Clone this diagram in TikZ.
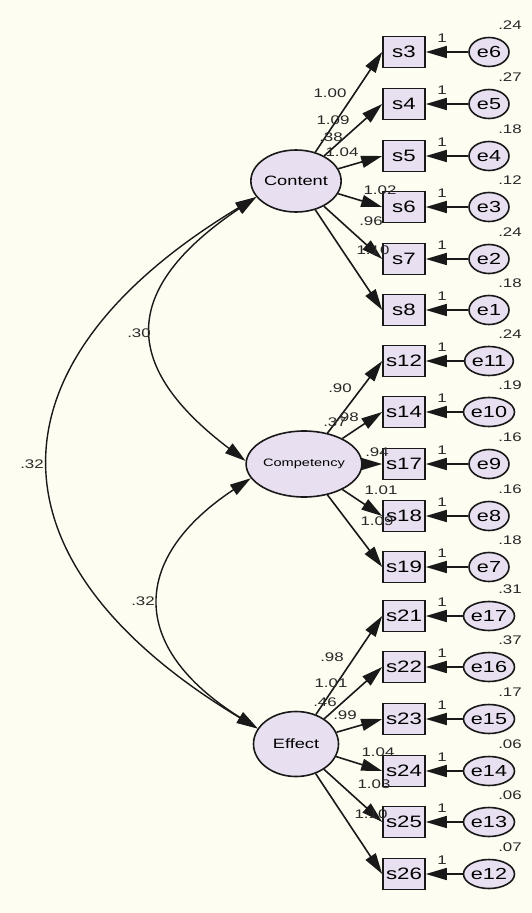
\documentclass[tikz,border=0pt]{standalone}
\usepackage{fontspec}
\setmainfont{Liberation Sans}[FakeStretch=1.35]
\usetikzlibrary{shapes.geometric,arrows.meta}
\definecolor{bg}{RGB}{253,253,241}
\definecolor{nodefill}{RGB}{232,224,240}
\definecolor{ink}{RGB}{25,25,25}
\definecolor{lab}{RGB}{40,40,40}
\tikzset{
  tip/.tip={Triangle[length=21pt,width=12pt]},
  obs/.style={draw=ink,line width=1.6pt,fill=nodefill,rectangle,minimum width=42pt,minimum height=31pt,inner sep=0pt,font=\fontsize{16.5}{16.5}\selectfont},
  err/.style={draw=ink,line width=1.6pt,fill=nodefill,ellipse,minimum width=40pt,minimum height=29pt,inner sep=0pt,font=\fontsize{16}{16}\selectfont},
  lat/.style={draw=ink,line width=1.6pt,fill=nodefill,ellipse,inner sep=0pt},
  load/.style={draw=ink,line width=1.6pt,-{tip}},
  cov/.style={draw=ink,line width=1.4pt,{tip}-{tip}},
  lbl/.style={text=lab,inner sep=0pt,font=\fontsize{12.5}{12.5}\selectfont}
}
\begin{document}
\begin{tikzpicture}[x=1pt,y=-1pt]
\fill[bg] (0,0) rectangle (532,913);
\useasboundingbox (0,0) rectangle (532,913);

% latent variables
\node[lat,minimum width=83pt,minimum height=62pt,font=\fontsize{13.5}{13.5}\selectfont] (Content) at (296,181) {Content};
\node[lat,minimum width=84pt,minimum height=66pt,font=\fontsize{10.8}{10.8}\selectfont] (Competency) at (304,464) {Competency};
\node[lat,minimum width=85pt,minimum height=65pt,font=\fontsize{13.5}{13.5}\selectfont] (Effect) at (296,744) {Effect};

% observed variables with errors
\foreach \s/\e/\y/\v in {3/6/52/.24,4/5/104/.27,5/4/156/.18,6/3/207/.12,7/2/259/.24,8/1/310/.18,
  12/11/361/.24,14/10/412/.19,17/9/464/.16,18/8/516/.16,19/7/567/.18,
  21/17/616/.31,22/16/667/.37,23/15/719/.17,24/14/771/.06,25/13/822/.06,26/12/874/.07}{
  \node[obs] (s\s) at (404,\y) {s\s};
  \node[err] (e\e) at (489,\y) {e\e};
  \draw[load] (e\e) -- (s\s);
  \node[lbl] (one\s) at (442,{\y-14}) {1};
  \node[lbl] (var\e) at (510,{\y-27}) {\v};
}

% loadings
\foreach \s in {3,4,5,6,7,8}{\draw[load] (Content) -- (s\s.west);}
\foreach \s in {12,14,17,18,19}{\draw[load] (Competency) -- (s\s.west);}
\foreach \s in {21,22,23,24,25,26}{\draw[load] (Effect) -- (s\s.west);}

% loading labels
\node[lbl] (l1) at (330,93) {1.00};
\node[lbl] (l2) at (333,120) {1.09};
\node[lbl] (v1) at (331,137) {.38};
\node[lbl] (l3) at (342,152) {1.04};
\node[lbl] (l4) at (380,190) {1.02};
\node[lbl] (l5) at (371,221) {.96};
\node[lbl] (l6) at (373,250) {1.10};

\node[lbl] (l7) at (340,388) {.90};
\node[lbl] (v2) at (335,422) {.37};
\node[lbl] (l8) at (347,417) {.98};
\node[lbl] (l9) at (377,452) {.94};
\node[lbl] (l10) at (381,490) {1.01};
\node[lbl] (l11) at (377,521) {1.09};

\node[lbl] (l12) at (332,657) {.98};
\node[lbl] (l13) at (331,683) {1.01};
\node[lbl] (v3) at (325,702) {.46};
\node[lbl] (l14) at (345,715) {.99};
\node[lbl] (l15) at (378,752) {1.04};
\node[lbl] (l16) at (374,784) {1.03};
\node[lbl] (l17) at (371,814) {1.10};

% covariances
\draw[cov] (Content.202) .. controls (117,291) and (123,368) .. (Competency.177);
\draw[cov] (Competency.195) .. controls (132,557) and (126,646) .. (Effect.158);
\draw[cov] (Content.202) .. controls (-19,363) and (-19,562) .. (Effect.158);
\node[lbl] (c1) at (139,333) {.30};
\node[lbl] (c2) at (143,601) {.32};
\node[lbl] (c3) at (32,464) {.32};
\end{tikzpicture}
\end{document}
